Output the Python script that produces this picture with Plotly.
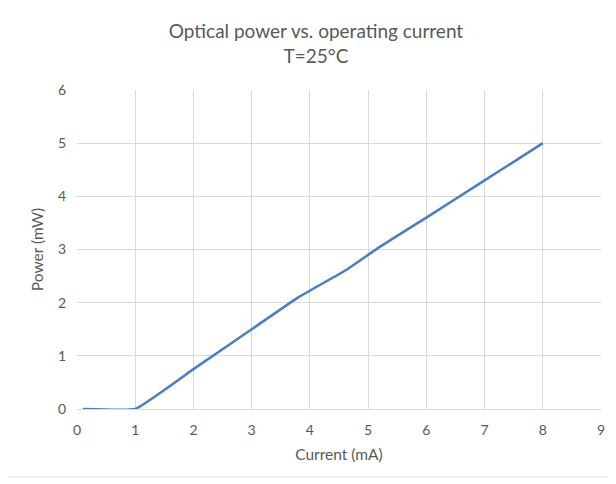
import plotly.graph_objects as go

current_ma = [0.1, 1.0, 2.0, 3.0, 3.8, 4.6, 5.2, 6.0, 7.0, 8.0]
power_mw = [0.0, 0.0, 0.75, 1.5, 2.1, 2.6, 3.05, 3.6, 4.3, 5.0]
x_ticks = list(range(0, 10))
y_ticks = list(range(0, 7))
title_text = "Optical power vs. operating current<br>T=25°C"

FONT = "Lato"
TXT = "#595959"
GRID = "#D9D9D9"

fig = go.Figure()
fig.add_trace(go.Scatter(
    x=current_ma, y=power_mw, mode="lines",
    line=dict(color="#4A7DC4", width=2.5, shape="spline", smoothing=0.3),
    showlegend=False,
))

fig.update_layout(
    width=616, height=484,
    margin=dict(l=69, r=23, t=82, b=83),
    paper_bgcolor="white", plot_bgcolor="white",
    font=dict(family=FONT, color=TXT, size=14),
    title=dict(text=title_text, x=0.5, xanchor="center", xref="container",
               y=0.938, yanchor="top", yref="container",
               font=dict(family=FONT, size=19, color=TXT)),
    xaxis=dict(range=[0, 9], tickvals=x_ticks, showgrid=True, gridcolor=GRID, gridwidth=1,
               zeroline=False, showline=True, linecolor=GRID, ticks="",
               tickfont=dict(size=14, color=TXT), ticklabelstandoff=8,
               title=dict(text="Current (mA)", font=dict(size=15.5, color=TXT), standoff=12)),
    yaxis=dict(range=[0, 6], tickvals=y_ticks, showgrid=True, gridcolor=GRID, gridwidth=1,
               zeroline=False, showline=False, ticks="",
               tickfont=dict(size=14, color=TXT), ticklabelstandoff=10,
               title=dict(text="Power (mW)", font=dict(size=15.5, color=TXT), standoff=10)),
    shapes=[dict(type="rect", xref="paper", yref="paper",
                 x0=-0.1355, x1=1.05, y0=-0.213, y1=1.2696,
                 line=dict(color="#E3E3E3", width=1), fillcolor="rgba(0,0,0,0)", layer="below")],
)

fig.write_html("out.html")
